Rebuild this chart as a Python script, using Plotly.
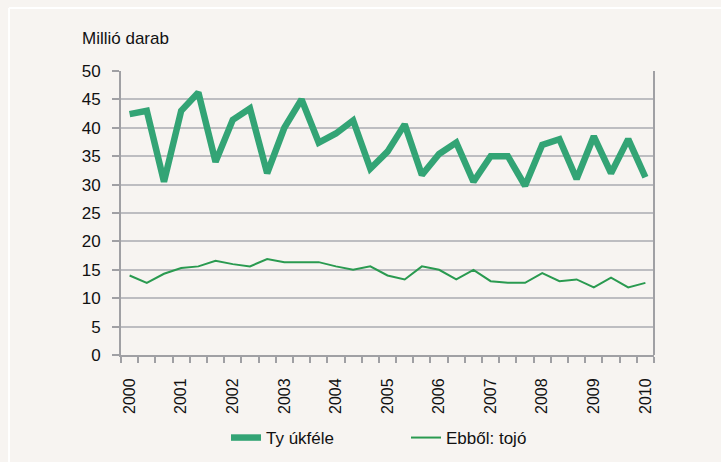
import plotly.graph_objects as go

# Data (31 periods, 2000 .. 2010, three per year)
years = ["2000", "2001", "2002", "2003", "2004", "2005", "2006", "2007", "2008", "2009", "2010"]
tyukfele = [42.4, 43.0, 30.5, 43.0, 46.2, 34.0, 41.4, 43.4, 32.0, 40.0, 45.0, 37.4, 39.0, 41.3,
            32.8, 35.8, 40.6, 31.7, 35.4, 37.4, 30.5, 35.0, 35.0, 29.8, 37.0, 38.0, 31.0, 38.5,
            32.0, 38.0, 31.3]
tojo = [14.0, 12.7, 14.3, 15.3, 15.6, 16.6, 16.0, 15.6, 16.9, 16.35, 16.35, 16.35, 15.6, 15.0,
        15.6, 14.0, 13.3, 15.6, 15.0, 13.3, 15.0, 13.0, 12.7, 12.7, 14.4, 13.0, 13.3, 11.9,
        13.6, 11.9, 12.7]
periods = list(range(len(tyukfele)))
year_pos = periods[::3]

BG = "#F7F4F1"
FONT = "Liberation Sans, Arial, sans-serif"
AXIS = "#A0A0A4"

fig = go.Figure()
fig.add_trace(go.Scatter(x=periods, y=tyukfele, mode="lines", name="Ty úkféle",
                         line=dict(color="#33A475", width=6.5)))
fig.add_trace(go.Scatter(x=periods, y=tojo, mode="lines", name="Ebből: tojó",
                         line=dict(color="#2A9A50", width=2)))

fig.update_layout(
    width=721, height=462,
    margin=dict(l=121, r=67, t=71, b=107, autoexpand=False),
    paper_bgcolor=BG, plot_bgcolor=BG,
    font=dict(family=FONT, size=17, color="#111111"),
    showlegend=True,
    legend=dict(orientation="h", xref="container", yref="container",
                x=226 / 721, xanchor="left", y=(462 - 438) / 462, yanchor="middle",
                bgcolor="rgba(0,0,0,0)", font=dict(size=17), entrywidth=135,
                entrywidthmode="pixels"),
    xaxis=dict(
        range=[-0.5, len(periods) - 0.5],
        tickmode="array", tickvals=year_pos, ticktext=years, tickangle=-90,
        ticks="", showgrid=False, zeroline=False,
        showline=True, linecolor=AXIS, linewidth=2,
        minor=dict(tick0=-0.5, dtick=1, ticks="outside", ticklen=6,
                   tickcolor=AXIS, tickwidth=2, showgrid=False),
        tickfont=dict(size=16), ticklabelstandoff=15, automargin=False,
    ),
    yaxis=dict(
        range=[0, 50], dtick=5, tick0=0,
        ticks="outside", ticklen=7, tickcolor=AXIS, tickwidth=2,
        showgrid=True, gridcolor="#BDBDC1", gridwidth=1.5,
        zeroline=False, showline=True, linecolor=AXIS, linewidth=2,
        tickfont=dict(size=17), ticklabelstandoff=8, automargin=False,
    ),
    shapes=[
        # right border of plot area
        dict(type="line", xref="paper", yref="paper", x0=1, x1=1, y0=0, y1=1,
             line=dict(color=AXIS, width=2)),
        # white frame (top and left)
        dict(type="line", xref="paper", yref="paper", x0=-0.21, x1=1.2, y0=1.222, y1=1.222,
             line=dict(color="white", width=2)),
        dict(type="line", xref="paper", yref="paper", x0=-0.21, x1=-0.21, y0=-0.5, y1=1.222,
             line=dict(color="white", width=2)),
    ],
    annotations=[
        dict(text="Millió darab", xref="paper", yref="paper", x=-0.077, y=1.116,
             xanchor="left", yanchor="middle", showarrow=False, font=dict(size=17)),
    ],
)

fig.write_html(
    "out.html",
    config={"displayModeBar": False},
    post_script="document.body.style.margin='0';document.body.style.background='" + BG + "';",
)
